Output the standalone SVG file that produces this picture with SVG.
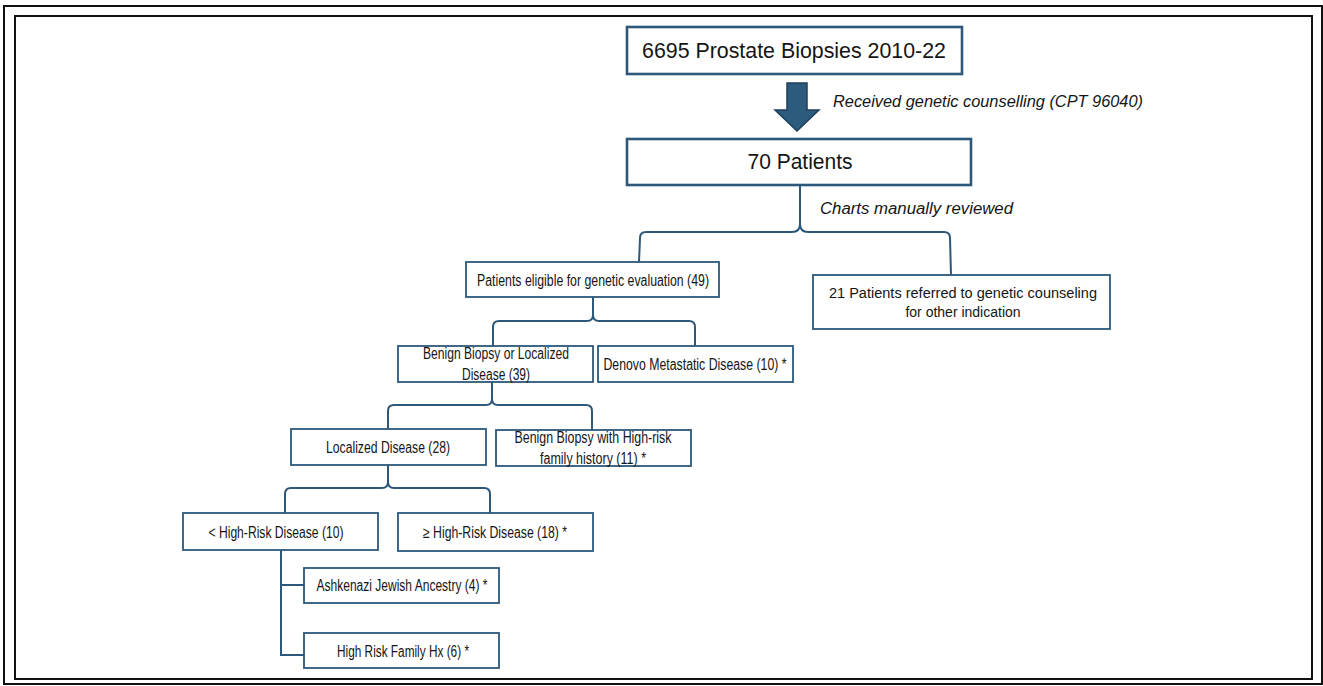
<svg xmlns="http://www.w3.org/2000/svg" width="1323" height="686" viewBox="0 0 1323 686">
<defs>
<style>
.frame{fill:none;stroke:#111;stroke-width:2}
.box{fill:#fff;stroke:#2d587a;stroke-width:1.8}
.bigbox{fill:#fff;stroke:#2d587a;stroke-width:2.6}
.con{fill:none;stroke:#2d587a;stroke-width:2}
.t{font-family:"Liberation Sans",Arial,sans-serif;fill:#151515;text-anchor:middle}
.big{font-size:22px}
.sm{font-size:16px}
.it{font-family:"Liberation Sans",Arial,sans-serif;font-style:italic;font-size:16px;fill:#151515}
.ref{font-size:14px}
</style>
</defs>
<rect width="1323" height="686" fill="#fff"/>
<rect class="frame" x="4" y="6" width="1318" height="678"/>
<rect class="frame" x="15" y="16" width="1297" height="663"/>

<g id="connectors">
<polygon points="787,83 807,83 807,110 819,110 797,131 775,110 787,110" fill="#2c5b7e" stroke="#1e3f5a" stroke-width="1.5"/>
<path class="con" d="M800,185 L800,224 Q800,232 792,232 L646,232 Q640,232 640,238 L639,262"/>
<path class="con" d="M800,185 L800,224 Q800,232 808,232 L944,232 Q950,232 950,238 L951,275"/>
<path class="con" d="M593,297 L593,315 Q593,321 587,321 L499,321 Q493,321 493,327 L493,346"/>
<path class="con" d="M593,297 L593,315 Q593,321 599,321 L689,321 Q695,321 695,327 L695,346"/>
<path class="con" d="M492,382 L492,399 Q492,405 486,405 L394,405 Q388,405 388,411 L388,429"/>
<path class="con" d="M492,382 L492,399 Q492,405 498,405 L586,405 Q592,405 592,411 L592,430"/>
<path class="con" d="M388,465 L388,482 Q388,488 382,488 L291,488 Q285,488 285,494 L285,513"/>
<path class="con" d="M388,465 L388,482 Q388,488 394,488 L484,488 Q490,488 490,494 L490,513"/>
<path class="con" d="M281,550 L281,655 L304,655 M281,585 L304,585"/>
</g>

<g id="n1"><rect class="bigbox" x="627" y="27" width="335" height="47"/>
<text class="t big" x="794" y="58" textLength="304" lengthAdjust="spacingAndGlyphs">6695 Prostate Biopsies 2010-22</text></g>

<g id="lbl1"><text class="it" x="833" y="107" textLength="310" lengthAdjust="spacingAndGlyphs">Received genetic counselling (CPT 96040)</text></g>

<g id="n2"><rect class="bigbox" x="627" y="139" width="344" height="46"/>
<text class="t big" x="800" y="169" textLength="105" lengthAdjust="spacingAndGlyphs">70 Patients</text></g>

<g id="lbl2"><text class="it" x="820" y="214" textLength="193" lengthAdjust="spacingAndGlyphs">Charts manually reviewed</text></g>

<g id="n3"><rect class="box" x="466" y="262" width="253" height="35"/>
<text class="t sm" x="593" y="286" textLength="232" lengthAdjust="spacingAndGlyphs">Patients eligible for genetic evaluation (49)</text></g>

<g id="n4"><rect class="box" x="813" y="275" width="297" height="54"/>
<text class="t ref" x="963" y="298" textLength="268" lengthAdjust="spacingAndGlyphs">21 Patients referred to genetic counseling</text>
<text class="t ref" x="963" y="317">for other indication</text></g>

<g id="n5"><rect class="box" x="398" y="346" width="195" height="36"/>
<text class="t sm" x="496" y="359" textLength="146" lengthAdjust="spacingAndGlyphs">Benign Biopsy or Localized</text>
<text class="t sm" x="496" y="380" textLength="68" lengthAdjust="spacingAndGlyphs">Disease (39)</text></g>

<g id="n6"><rect class="box" x="598" y="346" width="195" height="36"/>
<text class="t sm" x="695" y="370" textLength="183" lengthAdjust="spacingAndGlyphs">Denovo Metastatic Disease (10) *</text></g>

<g id="n7"><rect class="box" x="291" y="429" width="195" height="36"/>
<text class="t sm" x="388" y="453" textLength="124" lengthAdjust="spacingAndGlyphs">Localized Disease (28)</text></g>

<g id="n8"><rect class="box" x="496" y="430" width="195" height="36"/>
<text class="t sm" x="593" y="443" textLength="157" lengthAdjust="spacingAndGlyphs">Benign Biopsy with High-risk</text>
<text class="t sm" x="593" y="464" textLength="106" lengthAdjust="spacingAndGlyphs">family history (11) *</text></g>

<g id="n9"><rect class="box" x="183" y="513" width="195" height="37"/>
<text class="t sm" x="276" y="538" textLength="135" lengthAdjust="spacingAndGlyphs">&lt; High-Risk Disease (10)</text></g>

<g id="n10"><rect class="box" x="398" y="513" width="195" height="38"/>
<text class="t sm" x="495" y="538" textLength="144" lengthAdjust="spacingAndGlyphs">≥ High-Risk Disease (18) *</text></g>

<g id="n11"><rect class="box" x="304" y="568" width="195" height="35"/>
<text class="t sm" x="402" y="591" textLength="171" lengthAdjust="spacingAndGlyphs">Ashkenazi Jewish Ancestry (4) *</text></g>

<g id="n12"><rect class="box" x="304" y="633" width="195" height="35"/>
<text class="t sm" x="403" y="657" textLength="132" lengthAdjust="spacingAndGlyphs">High Risk Family Hx (6) *</text></g>
</svg>
